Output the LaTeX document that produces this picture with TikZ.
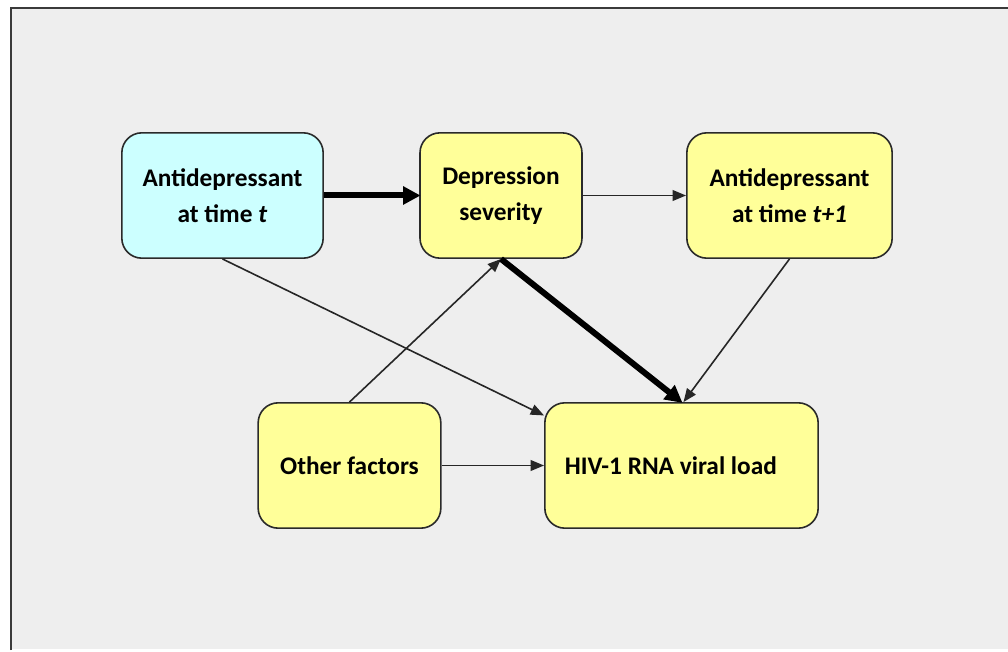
\documentclass[tikz,border=0pt]{standalone}
\usepackage{fontspec}
\setmainfont{Carlito}
\usetikzlibrary{arrows.meta}
\definecolor{bgray}{HTML}{EEEEEE}
\definecolor{framec}{HTML}{3A3A3A}
\definecolor{boxcyan}{HTML}{CCFFFF}
\definecolor{boxyellow}{HTML}{FFFF99}
\definecolor{boxline}{HTML}{2A2A2A}
\tikzset{
  box/.style={draw=boxline, line width=1.2pt, rounded corners=15pt, fill=boxyellow,
    font=\fontsize{19}{27}\selectfont\bfseries, align=center, inner sep=0pt},
  thinarrow/.style={draw=black!85, line width=1.2pt, -{Triangle[length=10pt,width=8pt]}},
  thickarrow/.style={draw=black, line width=4.5pt, -{Triangle[length=13pt,width=13pt]}, shorten >=-1pt},
}
\begin{document}
\begin{tikzpicture}[x=0.75pt,y=-0.75pt]
\useasboundingbox (0,0) rectangle (1008,652);
\fill[white] (0,0) rectangle (1008,652);
\fill[bgray] (11,8) rectangle (1008,649);
\draw[framec, line width=1.8pt] (11,650) -- (11,8) -- (1008,8);

\node[box, fill=boxcyan, minimum width=151pt, minimum height=94pt] (A) at (222.5,195.5) {Antidepressant\\at time \textit{t}};
\node[box, minimum width=121.5pt, minimum height=94pt] (B) at (501,195.5) {Depression\\severity};
\node[box, minimum width=154pt, minimum height=94pt] (C) at (789.5,195.5) {Antidepressant\\at time \textit{t+1}};
\node[box, minimum width=137pt, minimum height=94pt] (D) at (349.5,465.5) {Other factors};
\node[box, minimum width=205pt, minimum height=94pt] (E) at (681.5,465.5) {HIV-1 RNA viral load\hspace*{16pt}};

\draw[thickarrow] (A.east) -- (B.west);
\draw[thinarrow] (B.east) -- (C.west);
\draw[thinarrow] (A.south) -- (E.160);
\draw[thinarrow] (D.north) -- (B.south);
\draw[thickarrow] (B.south) -- (E.north);
\draw[thinarrow] (C.south) -- ([xshift=1.5pt]E.north);
\draw[thinarrow] (D.east) -- (E.west);
\end{tikzpicture}
\end{document}
